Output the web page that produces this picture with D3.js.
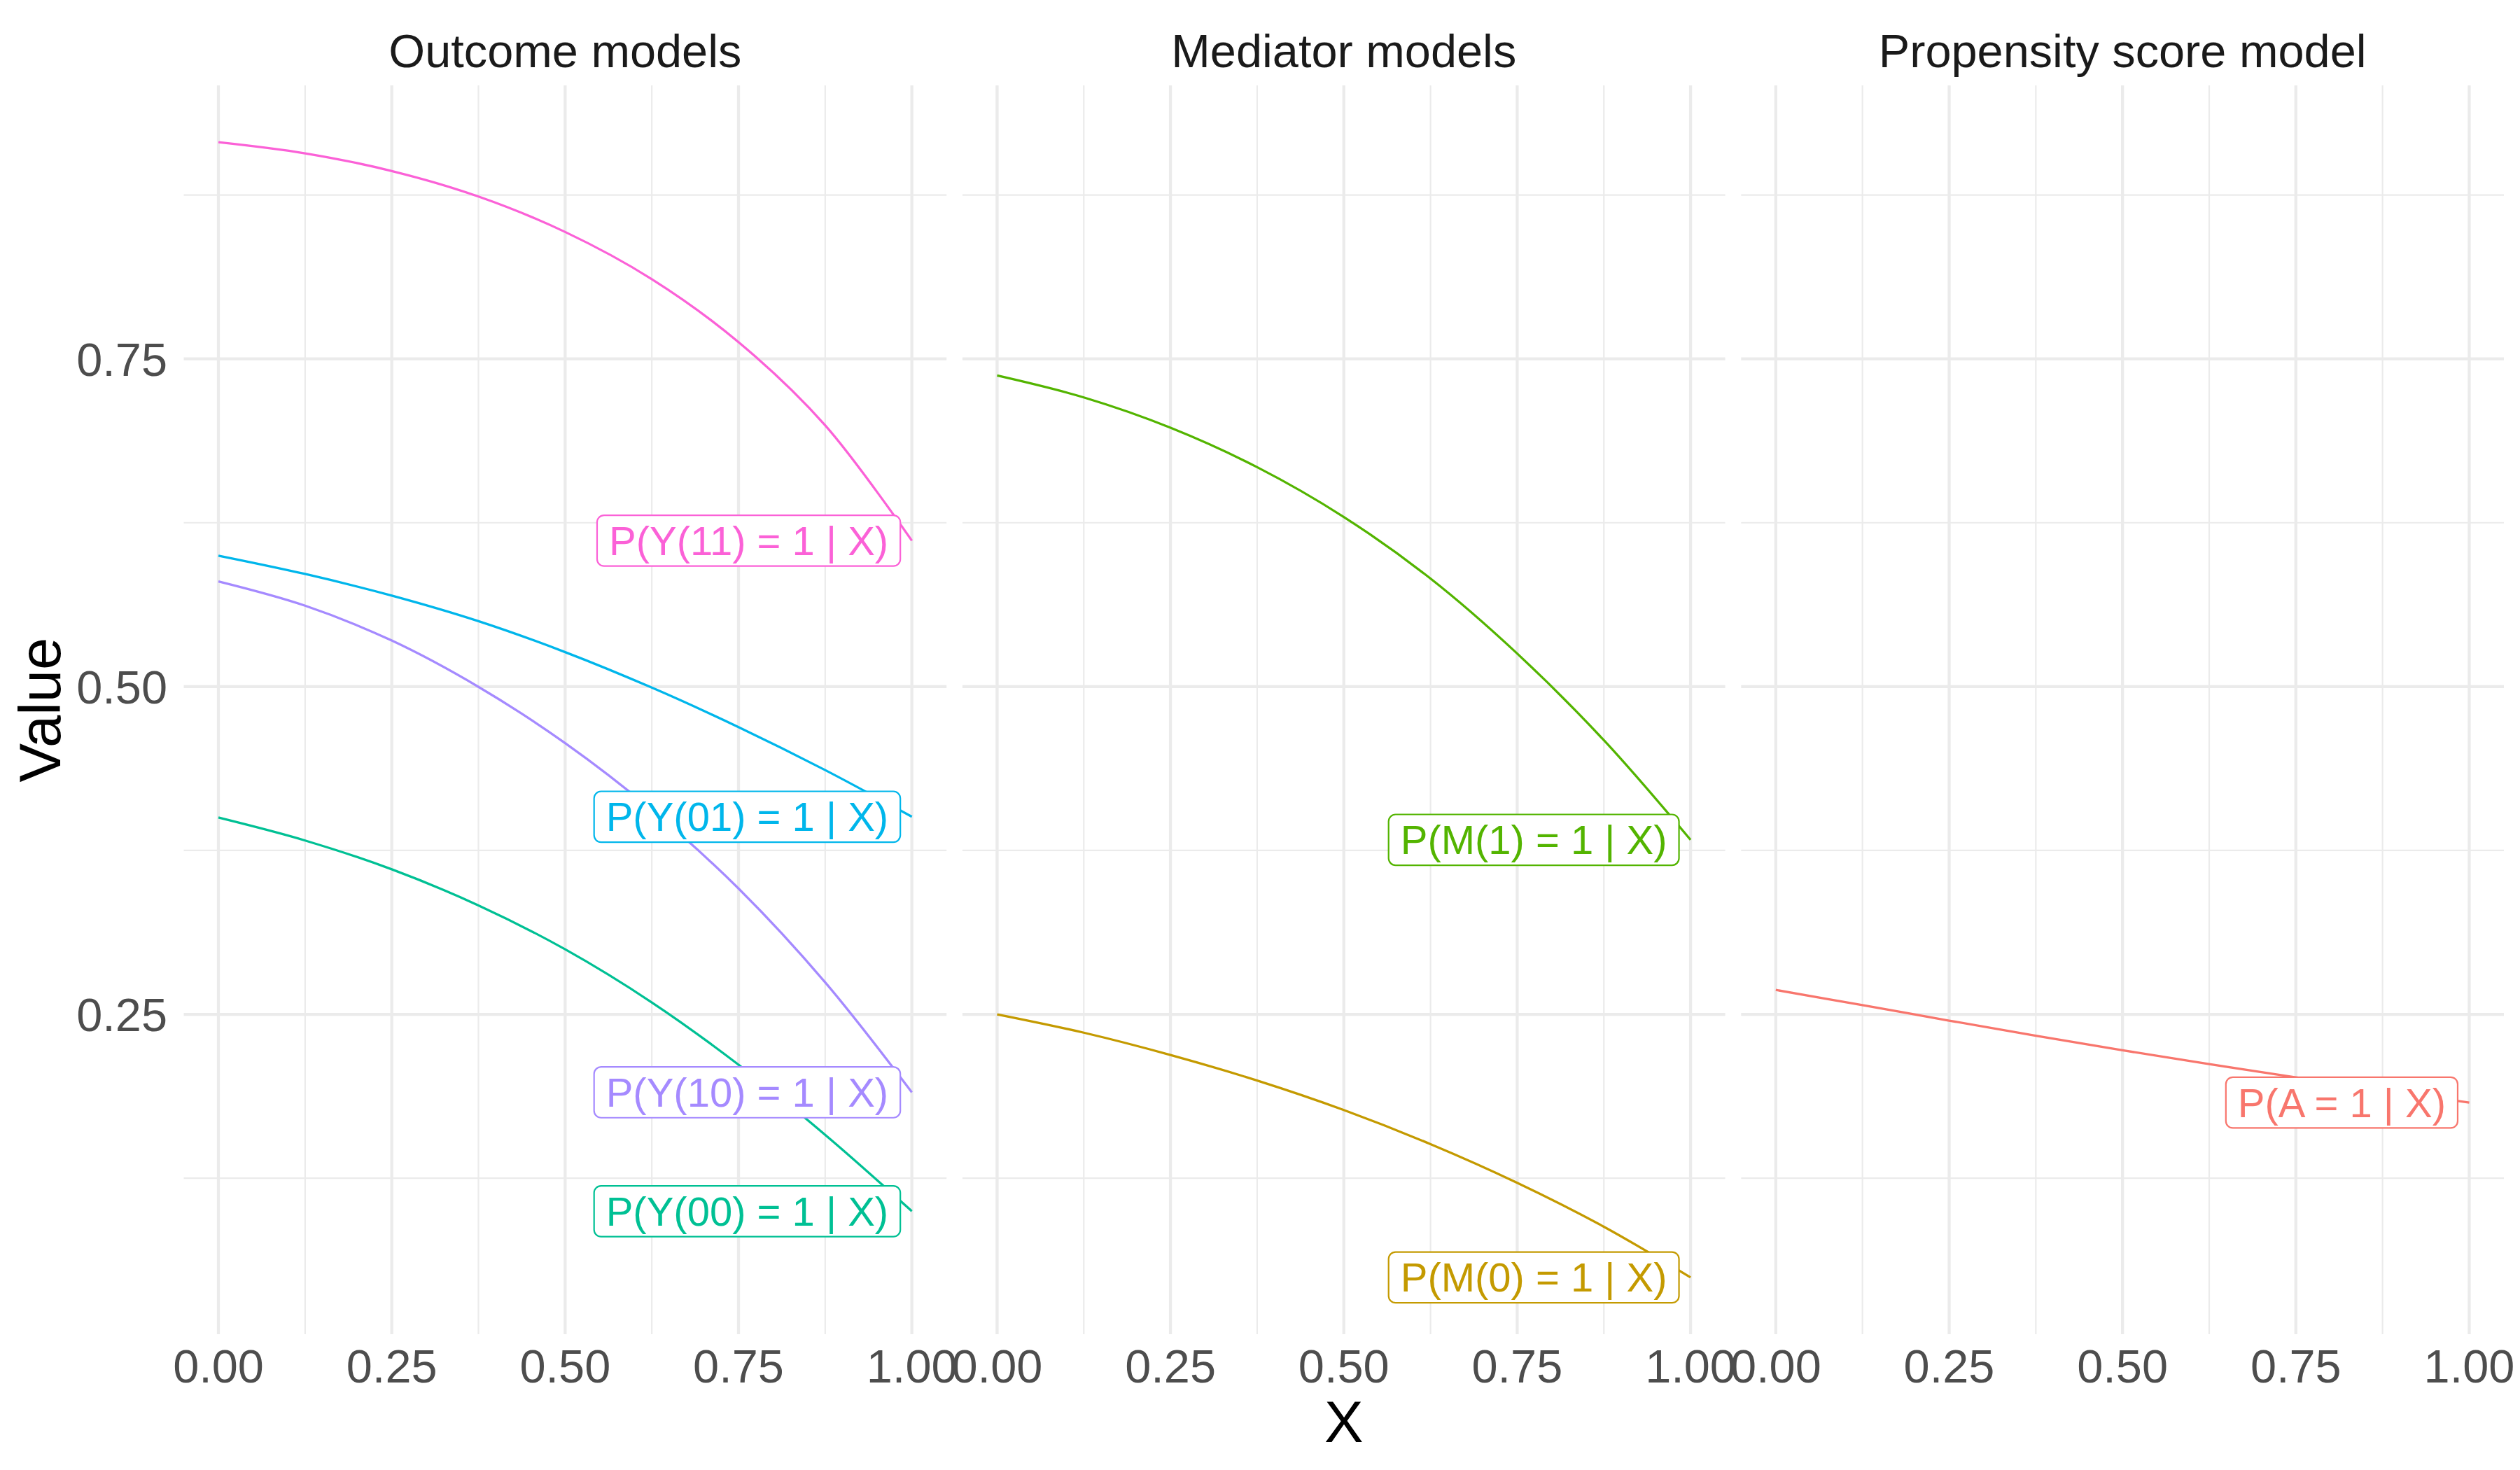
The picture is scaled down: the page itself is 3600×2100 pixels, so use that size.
<!DOCTYPE html>
<html>
<head>
<meta charset="utf-8">
<script src="https://cdn.jsdelivr.net/npm/d3@7"></script>
<style>
  html, body { margin: 0; padding: 0; background: #fff; }
  svg { display: block; font-family: "Liberation Sans", Arial, Helvetica, sans-serif; }
</style>
</head>
<body>
<svg id="chart" width="3600" height="2100"></svg>
<script>
// ── Data ───────────────────────────────────────────────────────
const X_VALUES = [0, 0.125, 0.25, 0.375, 0.5, 0.625, 0.75, 0.875, 1];

const PANELS = ['Outcome models', 'Mediator models', 'Propensity score model'];

const SERIES_NAMES  = ['P(A = 1 | X)', 'P(M(0) = 1 | X)', 'P(M(1) = 1 | X)',
                       'P(Y(00) = 1 | X)', 'P(Y(01) = 1 | X)', 'P(Y(10) = 1 | X)', 'P(Y(11) = 1 | X)'];
const SERIES_PANEL  = [2, 1, 1, 0, 0, 0, 0];
const SERIES_COLORS = ['#F8766D', '#C49A00', '#53B400', '#00C094', '#00B6EB', '#A58AFF', '#FB61D7'];

const A_VALUES   = [0.2686, 0.2570, 0.2452, 0.2337, 0.2226, 0.2120, 0.2019, 0.1921, 0.1827];
const M0_VALUES  = [0.2500, 0.2360, 0.2190, 0.1995, 0.1770, 0.1510, 0.1215, 0.0880, 0.0493];
const M1_VALUES  = [0.7373, 0.7206, 0.6975, 0.6674, 0.6294, 0.5824, 0.5252, 0.4591, 0.3831];
const Y00_VALUES = [0.4001, 0.3826, 0.3606, 0.3331, 0.2996, 0.2591, 0.2116, 0.1581, 0.0998];
const Y01_VALUES = [0.5999, 0.5859, 0.5694, 0.5499, 0.5263, 0.4992, 0.4691, 0.4363, 0.4007];
const Y10_VALUES = [0.5802, 0.5617, 0.5351, 0.4998, 0.4569, 0.4059, 0.3460, 0.2744, 0.1905];
const Y11_VALUES = [0.9153, 0.9068, 0.8933, 0.8738, 0.8468, 0.8108, 0.7628, 0.6993, 0.6113];

const SERIES_VALUES = [A_VALUES, M0_VALUES, M1_VALUES, Y00_VALUES, Y01_VALUES, Y10_VALUES, Y11_VALUES];

const X_TICKS = [0, 0.25, 0.5, 0.75, 1];
const X_MINOR = [0.125, 0.375, 0.625, 0.875];
const Y_TICKS = [0.25, 0.5, 0.75];
const Y_MINOR = [0.125, 0.375, 0.625, 0.875];

// ── Layout ─────────────────────────────────────────────────────
const PLOT_L = 262.5, PLOT_R = 3577, GAP = 22.7;
const PANEL_W = (PLOT_R - PLOT_L - 2 * GAP) / 3;
const PANEL_T = 122, PANEL_B = 1906;

const svg = d3.select('#chart');
svg.append('rect').attr('width', 3600).attr('height', 2100).attr('fill', '#fff');

const series = SERIES_NAMES.map((name, i) => ({
  name, panel: SERIES_PANEL[i], color: SERIES_COLORS[i],
  points: X_VALUES.map((x, j) => ({ x, y: SERIES_VALUES[i][j] }))
}));

// shared y scale, ggplot-like 5% expansion
const allY = SERIES_VALUES.flat();
const [yMin, yMax] = d3.extent(allY);
const yPad = (yMax - yMin) * 0.05;
const y = d3.scaleLinear().domain([yMin - yPad, yMax + yPad]).range([PANEL_B, PANEL_T]);

const fmt = d3.format('.2f');

PANELS.forEach((title, p) => {
  const left = PLOT_L + p * (PANEL_W + GAP);
  const x = d3.scaleLinear().domain([-0.05, 1.05]).range([left, left + PANEL_W]);
  const g = svg.append('g');

  // grid
  g.selectAll('.ym').data(Y_MINOR).join('line')
    .attr('x1', left).attr('x2', left + PANEL_W)
    .attr('y1', d => y(d)).attr('y2', d => y(d))
    .attr('stroke', '#EBEBEB').attr('stroke-width', 2.2);
  g.selectAll('.xm').data(X_MINOR).join('line')
    .attr('y1', PANEL_T).attr('y2', PANEL_B)
    .attr('x1', d => x(d)).attr('x2', d => x(d))
    .attr('stroke', '#EBEBEB').attr('stroke-width', 2.2);
  g.selectAll('.yM').data(Y_TICKS).join('line')
    .attr('x1', left).attr('x2', left + PANEL_W)
    .attr('y1', d => y(d)).attr('y2', d => y(d))
    .attr('stroke', '#EBEBEB').attr('stroke-width', 4.3);
  g.selectAll('.xM').data(X_TICKS).join('line')
    .attr('y1', PANEL_T).attr('y2', PANEL_B)
    .attr('x1', d => x(d)).attr('x2', d => x(d))
    .attr('stroke', '#EBEBEB').attr('stroke-width', 4.3);

  // strip title
  svg.append('text')
    .attr('x', left + PANEL_W / 2).attr('y', 96)
    .attr('text-anchor', 'middle')
    .attr('font-size', 66.7).attr('fill', '#1A1A1A')
    .text(title);

  // x tick labels
  g.selectAll('.xt').data(X_TICKS).join('text')
    .attr('x', d => x(d)).attr('y', 1975)
    .attr('text-anchor', 'middle')
    .attr('font-size', 66.7).attr('fill', '#4D4D4D')
    .text(d => fmt(d));

  // y tick labels only on first panel
  if (p === 0) {
    g.selectAll('.yt').data(Y_TICKS).join('text')
      .attr('x', 239).attr('y', d => y(d) + 24)
      .attr('text-anchor', 'end')
      .attr('font-size', 66.7).attr('fill', '#4D4D4D')
      .text(d => fmt(d));
  }

  const ps = series.filter(s => s.panel === p);
  const line = d3.line().x(d => x(d.x)).y(d => y(d.y)).curve(d3.curveCatmullRom.alpha(0.5));

  g.selectAll('.series').data(ps).join('path')
    .attr('d', d => line(d.points))
    .attr('fill', 'none')
    .attr('stroke', d => d.color)
    .attr('stroke-width', 3.3);

  // end labels (boxed, right edge just left of x = 1)
  ps.forEach(s => {
    const last = s.points[s.points.length - 1];
    const cy = y(last.y);
    const right = x(1) - 16.5;
    const lg = g.append('g');
    const rect = lg.append('rect');
    const txt = lg.append('text')
      .attr('font-size', 58).attr('fill', s.color)
      .attr('text-anchor', 'end')
      .attr('x', right - 17).attr('y', cy + 20.5)
      .text(s.name);
    const w = txt.node().getComputedTextLength() + 34;
    rect.attr('x', right - w).attr('y', cy - 36.3)
      .attr('width', w).attr('height', 72.6)
      .attr('rx', 10).attr('ry', 10)
      .attr('fill', '#fff').attr('stroke', s.color).attr('stroke-width', 2.2);
  });
});

// axis titles
svg.append('text')
  .attr('x', (PLOT_L + PLOT_R) / 2).attr('y', 2060)
  .attr('text-anchor', 'middle')
  .attr('font-size', 83.3).attr('fill', '#000')
  .text('X');

svg.append('text')
  .attr('transform', `translate(86,${(PANEL_T + PANEL_B) / 2}) rotate(-90)`)
  .attr('text-anchor', 'middle')
  .attr('font-size', 83.3).attr('fill', '#000')
  .text('Value');
</script>
</body>
</html>
